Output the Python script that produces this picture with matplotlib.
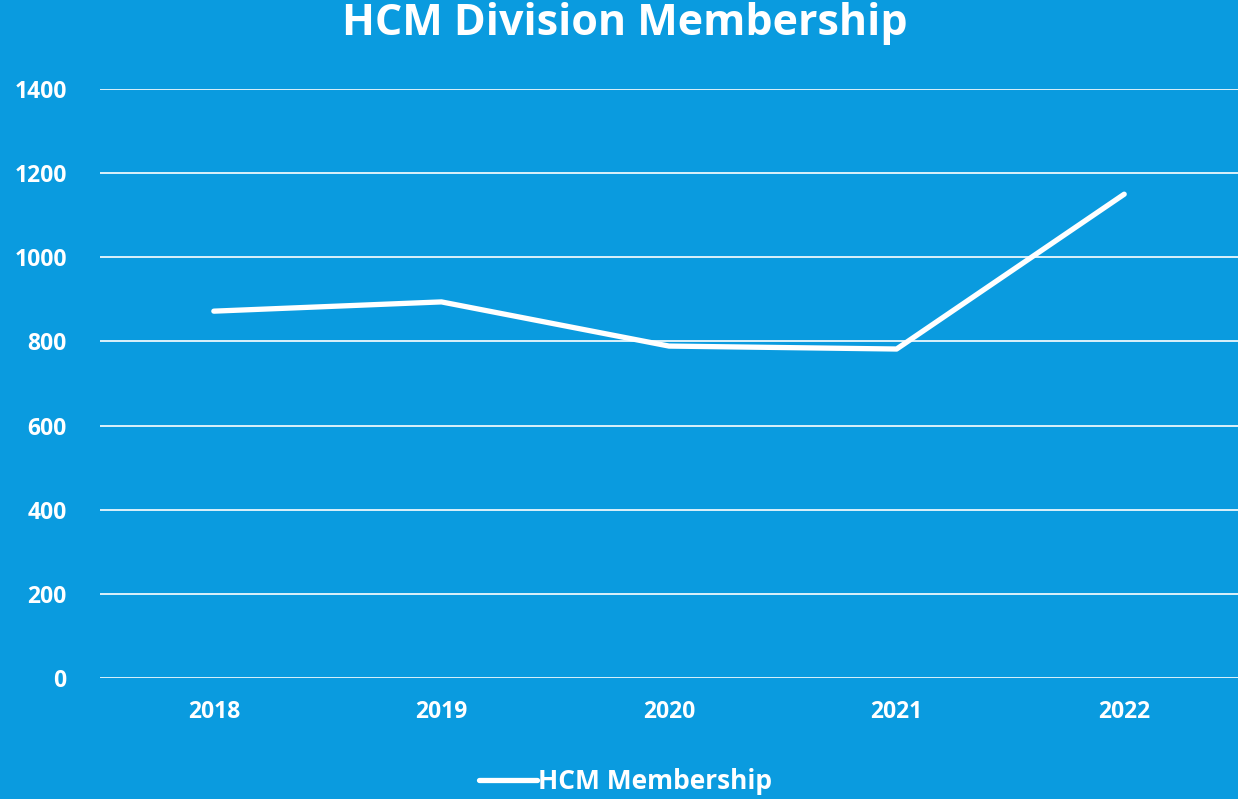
import matplotlib.pyplot as plt

years = ["2018", "2019", "2020", "2021", "2022"]
members = [872, 894, 789, 782, 1150]
y_ticks = [0, 200, 400, 600, 800, 1000, 1200, 1400]

bg = "#0A9BDF"

plt.rcParams["font.family"] = ["Open Sans", "DejaVu Sans"]

fig = plt.figure(figsize=(12.38, 7.99), dpi=100, facecolor=bg)
ax = fig.add_axes([0.0808, 0.1514, 0.9192, 0.7372], facecolor=bg)

ax.plot(range(len(years)), members, color="white", lw=3.8,
        solid_capstyle="round", label="HCM Membership")

ax.set_xlim(-0.5, len(years) - 0.5)
ax.set_ylim(0, 1400)
ax.set_yticks(y_ticks)
ax.set_xticks(range(len(years)))
ax.set_xticklabels(years)
ax.grid(axis="y", color="white", lw=1.2)
ax.set_axisbelow(True)
for s in ax.spines.values():
    s.set_visible(False)
ax.tick_params(length=0, colors="white", labelsize=16.5)
ax.tick_params(axis="y", pad=24)
ax.tick_params(axis="x", pad=16)
for lbl in ax.get_xticklabels() + ax.get_yticklabels():
    lbl.set_fontweight("bold")

fig.suptitle("HCM Division Membership", color="white", fontsize=31,
             fontweight="bold", y=0.998, va="top", x=0.505)

leg = fig.legend(loc="lower center", bbox_to_anchor=(0.505, -0.025), frameon=False,
                 fontsize=19, handlelength=2.2, handletextpad=0.05)
for t in leg.get_texts():
    t.set_color("white")
    t.set_fontweight("bold")

fig.savefig("out.png", facecolor=bg)
